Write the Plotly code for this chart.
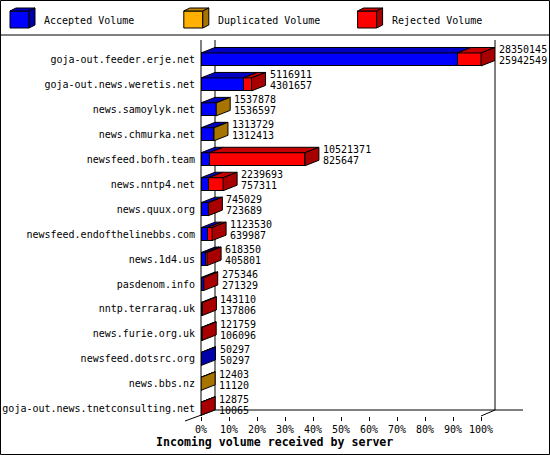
import plotly.graph_objects as go

# incoming volume per server (offered / accepted are the labels printed on the chart)
servers = [
    'goja-out.feeder.erje.net', 'goja-out.news.weretis.net', 'news.samoylyk.net',
    'news.chmurka.net', 'newsfeed.bofh.team', 'news.nntp4.net', 'news.quux.org',
    'newsfeed.endofthelinebbs.com', 'news.1d4.us', 'pasdenom.info', 'nntp.terraraq.uk',
    'news.furie.org.uk', 'newsfeed.dotsrc.org', 'news.bbs.nz',
    'goja-out.news.tnetconsulting.net',
]
offered = [28350145, 5116911, 1537878, 1313729, 10521371, 2239693, 745029, 1123530,
           618350, 275346, 143110, 121759, 50297, 12403, 12875]
accepted = [25942549, 4301657, 1536597, 1312413, 825647, 757311, 723689, 639987,
            405801, 271329, 137806, 106096, 50297, 11120, 10065]
duplicated = [0, 0, 1281, 1316, 0, 0, 0, 0, 0, 0, 0, 0, 0, 1283, 0]
rejected = [2407596, 815254, 0, 0, 9695724, 1482382, 21340, 483543, 212549, 4017,
            5304, 15663, 0, 0, 2810]

tick_pcts = [0, 10, 20, 30, 40, 50, 60, 70, 80, 90, 100]
tick_labels = ['0%', '10%', '20%', '30%', '40%', '50%', '60%', '70%', '80%', '90%', '100%']

# (name, values, front colour, top colour, side colour)
series = [
    ('Accepted Volume', accepted, '#0000FF', '#0000C4', '#0000A8'),
    ('Duplicated Volume', duplicated, '#FFB000', '#C48800', '#A87400'),
    ('Rejected Volume', rejected, '#FF0000', '#C40000', '#A80000'),
]

W, H = 550, 455
L, R, T, B = 201, 495, 40, 416          # plot area in pixels
FONT = 'DejaVu Sans Mono'

MAXV = max(offered)
DX = 0.05 * MAXV       # depth of the 3d boxes (x units)
DY = 0.22              # depth of the 3d boxes (row units)
HALF = 0.26            # half bar thickness
rows = list(range(len(servers)))


def px(x):
    return (x - L) / (R - L)


def py(y):
    return (B - y) / (B - T)


fig = go.Figure()

# front faces
for name, vals, front, top, side in series:
    fig.add_trace(go.Bar(
        orientation='h', y=rows, x=vals, width=2 * HALF, name=name,
        marker=dict(color=front, line=dict(color='black', width=1)),
        showlegend=False, hoverinfo='skip'))

# top faces of every segment, side face of the last segment of each row
tops = {k: ([], []) for k in range(len(series))}
sides = {k: ([], []) for k in range(len(series))}
for i in rows:
    start = 0
    last = None
    for k, (_, vals, _, _, _) in enumerate(series):
        v = vals[i]
        if v <= 0:
            continue
        xs, ys = tops[k]
        yt = i - HALF
        xs += [start, start + v, start + v + DX, start + DX, start, None]
        ys += [yt, yt, yt - DY, yt - DY, yt, None]
        start += v
        last = k
    if last is not None:
        xs, ys = sides[last]
        xs += [start, start + DX, start + DX, start, start, None]
        ys += [i - HALF, i - HALF - DY, i + HALF - DY, i + HALF, i - HALF, None]

for k, (name, _, _, top, side) in enumerate(series):
    for faces, col in ((tops, top), (sides, side)):
        xs, ys = faces[k]
        if not xs:
            continue
        fig.add_trace(go.Scatter(
            x=xs, y=ys, mode='lines', fill='toself', fillcolor=col,
            line=dict(color='black', width=1), showlegend=False, hoverinfo='skip'))

annotations = []
# value labels next to each bar
for i in rows:
    for txt, shift in ((offered[i], 9.5), (accepted[i], -1.5)):
        annotations.append(dict(
            x=offered[i] + DX, y=i, xref='x', yref='y', text=str(txt),
            xanchor='left', yanchor='middle', xshift=2, yshift=shift,
            showarrow=False, font=dict(family=FONT, size=10, color='black')))

# x axis title
annotations.append(dict(
    x=px(274), y=py(441.5), xref='paper', yref='paper',
    text='<b>Incoming volume received by server</b>', showarrow=False,
    xanchor='center', yanchor='middle', font=dict(family=FONT, size=11.6, color='black')))

shapes = []
# frame and legend separator
shapes.append(dict(type='rect', xref='paper', yref='paper', x0=px(0.5), x1=px(549.5),
                   y0=py(0.5), y1=py(454.5), line=dict(color='black', width=1)))
shapes.append(dict(type='line', xref='paper', yref='paper', x0=px(0), x1=px(550),
                   y0=py(35), y1=py(35), line=dict(color='black', width=1)))

# walls and floor of the 3d box
for (x0, y0, x1, y1) in [(201, 40, 201, 416), (215, 40, 215, 410), (495, 40, 495, 410),
                         (215, 410, 523, 410), (495, 410, 481, 416), (215, 410, 185, 421)]:
    shapes.append(dict(type='line', xref='paper', yref='paper', x0=px(x0), y0=py(y0),
                       x1=px(x1), y1=py(y1), line=dict(color='black', width=1),
                       layer='below'))

# legend with little 3d boxes
for n, (name, _, front, top, side) in enumerate(series):
    x = 10 + n * 173.8
    shapes.append(dict(type='rect', xref='paper', yref='paper', x0=px(x), x1=px(x + 19),
                       y0=py(28), y1=py(11), fillcolor=front,
                       line=dict(color='black', width=1)))
    shapes.append(dict(type='path', xref='paper', yref='paper', fillcolor=top,
                       line=dict(color='black', width=1),
                       path=f'M{px(x)},{py(11)} L{px(x + 6)},{py(8)} L{px(x + 25)},{py(8)} '
                            f'L{px(x + 19)},{py(11)} Z'))
    shapes.append(dict(type='path', xref='paper', yref='paper', fillcolor=side,
                       line=dict(color='black', width=1),
                       path=f'M{px(x + 19)},{py(11)} L{px(x + 25)},{py(8)} L{px(x + 25)},{py(25)} '
                            f'L{px(x + 19)},{py(28)} Z'))
    annotations.append(dict(x=px(x + 32), y=py(20), xref='paper', yref='paper', text=name,
                            xanchor='left', yanchor='middle', showarrow=False,
                            font=dict(family=FONT, size=10, color='black')))

fig.update_layout(
    width=W, height=H,
    margin=dict(l=L, r=W - R, t=T, b=H - B, pad=0),
    barmode='stack',
    plot_bgcolor='white', paper_bgcolor='white',
    showlegend=False,
    shapes=shapes,
    annotations=annotations,
    xaxis=dict(range=[0, 1.05 * MAXV], tickvals=[p / 100 * MAXV for p in tick_pcts],
               ticktext=tick_labels, ticks='outside', ticklen=4, tickcolor='black',
               showgrid=False, zeroline=False, showline=False, automargin=False,
               tickfont=dict(family=FONT, size=10, color='black')),
    yaxis=dict(range=[14.29, -0.78], tickvals=rows, ticktext=servers,
               ticks='outside', ticklen=3, tickcolor='rgba(0,0,0,0)',
               showgrid=False, zeroline=False, showline=False, automargin=False,
               tickfont=dict(family=FONT, size=10, color='black')),
)

fig.write_html("out.html", config={'displayModeBar': False},
               post_script="document.body.style.margin='0';")
